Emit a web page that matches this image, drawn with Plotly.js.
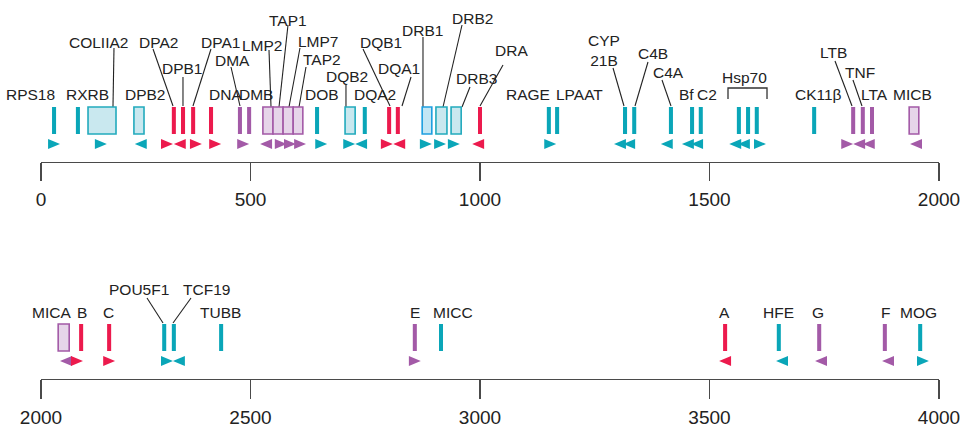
<!DOCTYPE html>
<html><head><meta charset="utf-8">
<script src="https://cdn.plot.ly/plotly-3.0.1.min.js"></script>
<style>html,body{margin:0;padding:0;background:#fff}#chart{width:967px;height:429px}</style>
</head><body><div id="chart"></div>
<script>
const geneNames  = ['RPS18','RXRB','COLIIA2','DPB2','DPA2','DPB1','DPA1','DNA','DMA','DMB',
  'LMP2','TAP1','LMP7','TAP2','DOB','DQB2','DQA2','DQB1','DQA1','DRB1','DRB2','DRB3','DRA',
  'RAGE','LPAAT','CYP21B','C4B','C4A','Bf','C2','Hsp70-1','Hsp70-2','Hsp70-3','CK11β',
  'LTB','TNF','LTA','MICB',
  'MICA','B','C','POU5F1','TCF19','TUBB','E','MICC','A','HFE','G','F','MOG'];
const geneStart  = [72,124,146,246,333,353,375,414,477,497,
  527,549,571,593,645,706,749,802,821,874,904,937,1000,
  1150,1168,1316,1336,1416,1462,1481,1564,1584,1603,1728,
  1813,1834,1854,1935,
  2081,2131,2192,2312,2333,2436,2858,2915,3534,3651,3739,3882,3959];
const geneEnd    = [72,124,207,268,333,353,375,414,477,497,
  549,571,593,614,645,728,749,802,821,895,928,959,1000,
  1150,1168,1316,1336,1416,1462,1481,1564,1584,1603,1728,
  1813,1834,1854,1956,
  2105,2131,2192,2312,2333,2436,2858,2915,3534,3651,3739,3882,3959];
// group: r = red, c = cyan, p = purple, b = blue-outlined box
const geneGroup  = ['c','c','c','c','r','r','r','r','p','p',
  'p','p','p','p','c','c','c','r','r','b','c','c','r',
  'c','c','c','c','c','c','c','c','c','c','c',
  'p','p','p','p',
  'p','r','r','c','c','c','p','c','r','c','p','p','c'];
// transcription direction: 1 = right, -1 = left, 0 = not shown
const geneStrand = [1,0,1,-1,1,-1,1,1,1,0,
  -1,1,1,1,1,1,-1,1,-1,1,1,1,-1,
  1,0,-1,-1,-1,-1,-1,-1,-1,1,0,
  1,-1,-1,-1,
  -1,1,1,1,-1,0,1,0,-1,-1,-1,-1,1];
const arrowPos   = [72,null,174,261,318,346,381,423,484,null,
  534,566,586,608,654,715,741,797,824,882,913,943,996,
  1153,null,1305,1325,1407,1453,1473,1556,1575,1610,null,
  1800,1826,1847,1950,
  2098,2122,2192,2318,2344,null,2858,null,3534,3658,3743,3889,3965];
const tickLabelsTop = ['0','500','1000','1500','2000'];
const tickLabelsBot = ['2000','2500','3000','3500','4000'];

// ---------------- LAYOUT / STYLE ----------------
const AX0_TOP = 43.57, AX0_BOT = 2043.57;   // where the drawn axis begins
const tickValsTop = [AX0_TOP,500,1000,1500,2000];
const tickValsBot = [AX0_BOT,2500,3000,3500,4000];
const COL = {r:'#EC1A4D', c:'#0AA6B8', p:'#A35AA7', b:'#0AA6B8'};
const BOXFILL = {c:'#C9E8EF', p:'#E6D5E9', b:'#C3E6F4', r:'#F8C8D4'};
const BOXLINE = {c:'#22AABD', p:'#A35AA7', b:'#1E9FE0', r:'#EC1A4D'};
const BAR_Y0 = 2.8, BAR_Y1 = 5.5, BAR_HALF = 4.4;
const ARR_Y = 1.8, ARR_H = 0.5, ARR_W = 13;
const FONT = 'Liberation Sans, Arial, Helvetica, sans-serif';

// label placement: text, x(kb), level, optional leader [x0,y0,x1,y1], optional anchor
const labels = [
  ['RPS18',78.4,6.8,null,'right'],['RXRB',143.8,6.8],
  ['COLIIA2',167.8,12.0,[202.6,11.4,200.4,5.5]],
  ['DPA2',298.5,12.0,[287.6,11.3,331.2,5.6]],
  ['DPB1',352.9,9.4,[352.9,8.5,352.9,5.6]],
  ['DPA1',433.6,12.0,[413.9,11.3,374.7,5.6]],
  ['DMA',459.7,10.2,[457.5,9.5,477.1,5.6]],
  ['LMP2',525.1,11.7,[540.3,11.2,544.7,5.5]],
  ['TAP1',581.7,14.2,[581.7,13.7,562.1,5.5]],
  ['LMP7',649.2,12.1,[607.8,11.4,583.9,5.5]],
  ['TAP2',655.8,10.3,[620.9,9.5,605.7,5.5]],
  ['DPB2',272.3,6.8],['DNA',446.6,6.8],['DMB',512,6.8],['DOB',655.8,6.8],
  ['DQB2',710.2,8.6,[708,7.7,708,5.5]],
  ['DQA2',771.2,6.8],
  ['DQB1',784.3,12.0,[745.1,11.3,803.9,5.6]],
  ['DQA1',823.5,9.4,[849.7,8.5,830.1,5.6]],
  ['DRB1',875.8,13.2,[875.8,12.5,875.8,5.5]],
  ['DRB2',982.6,14.4,[960.8,13.7,919.4,5.5]],
  ['DRB3',991.3,8.4,[978.2,7.5,960.8,5.5]],
  ['DRA',1069.7,11.2,[1050.1,9.7,1000,5.6]],
  ['RAGE',1104.6,6.8],['LPAAT',1215.7,6.8],
  ['CYP<br>21B',1270.2,11.2,[1289.8,9.4,1313.7,5.6]],
  ['C4B',1376.9,10.9,[1366,10.0,1337.7,5.6]],
  ['C4A',1409.6,9.0,[1396.5,8.2,1416.1,5.6]],
  ['Bf',1448.8,6.8],['C2',1494.6,6.8],
  ['Hsp70',1577.3,8.5],
  ['CK11β',1736.4,6.8],
  ['LTB',1769.1,11.0,[1773.4,10.1,1810.5,5.6]],
  ['TNF',1827.9,9.0,[1812.6,8.2,1832.2,5.6]],
  ['LTA',1858.4,6.8],['MICB',1941.2,6.8],
  ['MICA',2065.4,6.7],['B',2132.9,6.7],['C',2191.7,6.7],['TUBB',2435.7,6.7],
  ['POU5F1',2257.1,9.0,[2274.5,8.1,2309.4,5.6]],
  ['TCF19',2405.2,9.0,[2370.4,8.1,2331.2,5.6]],
  ['E',2858.4,6.7],['MICC',2941.2,6.7],['A',3531.6,6.7],['HFE',3651.4,6.7],
  ['G',3736.4,6.7],['F',3882.4,6.7],['MOG',3956.4,6.7]
];
const hspBracket = {x0:1540.3, x1:1625.3, top:7.4, leg:6.3};

// ---------------- BUILD ----------------
const refs = v => v < 2000 ? {x:'x', y:'y'} : {x:'x2', y:'y2'};
const shapes = [];
geneNames.forEach((n,i)=>{
  const r = refs(geneStart[i]); const g = geneGroup[i];
  if (geneEnd[i] > geneStart[i]) {
    shapes.push({type:'rect', xref:r.x, yref:r.y, x0:geneStart[i], x1:geneEnd[i], y0:BAR_Y0, y1:BAR_Y1,
      fillcolor:BOXFILL[g], line:{color:BOXLINE[g], width:1.6}, layer:'above'});
  } else {
    shapes.push({type:'rect', xref:r.x, yref:r.y, x0:geneStart[i]-BAR_HALF, x1:geneStart[i]+BAR_HALF, y0:BAR_Y0, y1:BAR_Y1,
      fillcolor:COL[g], line:{width:0}, layer:'above'});
  }
  if (geneStrand[i] !== 0 && arrowPos[i] !== null) {
    const a = arrowPos[i], s = geneStrand[i];
    const p = `M ${a - s*ARR_W},${ARR_Y-ARR_H} L ${a + s*ARR_W},${ARR_Y} L ${a - s*ARR_W},${ARR_Y+ARR_H} Z`;
    shapes.push({type:'path', xref:r.x, yref:r.y, path:p, fillcolor:COL[g], line:{width:0}, layer:'above'});
  }
});

const annotations = [];
const leadTop = {x:[],y:[]}, leadBot = {x:[],y:[]};
labels.forEach(l=>{
  const r = refs(l[1]);
  annotations.push({xref:r.x, yref:r.y, x:l[1], y:l[2], text:l[0], showarrow:false,
    xanchor:l[4] || 'center', yanchor:'middle', font:{family:FONT, size:15.5, color:'#222'}});
  if (l[3]) {
    const t = l[1] < 2000 ? leadTop : leadBot;
    t.x.push(l[3][0], l[3][2], null); t.y.push(l[3][1], l[3][3], null);
  }
});

const traces = [
  {type:'scatter', mode:'lines', x:leadTop.x, y:leadTop.y, xaxis:'x', yaxis:'y',
   line:{color:'#222', width:1.1}, hoverinfo:'skip', showlegend:false, cliponaxis:false},
  {type:'scatter', mode:'lines', x:leadBot.x, y:leadBot.y, xaxis:'x2', yaxis:'y2',
   line:{color:'#222', width:1.1}, hoverinfo:'skip', showlegend:false, cliponaxis:false},
  {type:'scatter', mode:'lines', xaxis:'x', yaxis:'y',
   x:[hspBracket.x0,hspBracket.x0,hspBracket.x1,hspBracket.x1],
   y:[hspBracket.leg,hspBracket.top,hspBracket.top,hspBracket.leg],
   line:{color:'#333', width:1.3}, hoverinfo:'skip', showlegend:false, cliponaxis:false}
];

const xCommon = {
  domain:[41/967, 939/967], showline:true, linecolor:'#4a4a4a', linewidth:1.3,
  ticks:'outside', ticklen:18, tickwidth:1.3, tickcolor:'#4a4a4a',
  tickfont:{family:FONT, size:19, color:'#222'}, showgrid:false, zeroline:false, fixedrange:true
};
const layout = {
  width:967, height:429, margin:{l:0,r:0,t:0,b:0},
  paper_bgcolor:'#fff', plot_bgcolor:'rgba(0,0,0,0)', showlegend:false,
  xaxis:Object.assign({}, xCommon, {range:[AX0_TOP,2000], anchor:'y', tickvals:tickValsTop, ticktext:tickLabelsTop, ticklabelstandoff:2}),
  xaxis2:Object.assign({}, xCommon, {range:[AX0_BOT,4000], anchor:'y2', tickvals:tickValsBot, ticktext:tickLabelsBot, ticklabelstandoff:2, ticklen:19}),
  yaxis:{domain:[1-162/429, 1], range:[0,16.2], visible:false, fixedrange:true},
  yaxis2:{domain:[1-379/429, 1-210/429], range:[0,16.9], visible:false, fixedrange:true},
  shapes:shapes, annotations:annotations
};
Plotly.newPlot('chart', traces, layout, {staticPlot:true, displayModeBar:false});
</script></body></html>
